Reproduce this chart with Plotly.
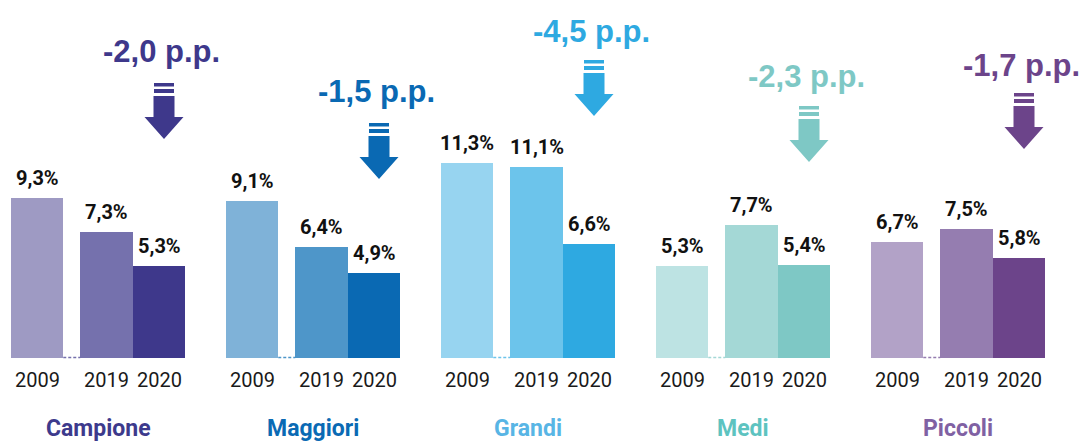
import plotly.graph_objects as go

# ---- data ----
groups = ["Campione", "Maggiori", "Grandi", "Medi", "Piccoli"]
years = ["2009", "2019", "2020"]
v2009 = [9.3, 9.1, 11.3, 5.3, 6.7]
v2019 = [7.3, 6.4, 11.1, 7.7, 7.5]
v2020 = [5.3, 4.9, 6.6, 5.4, 5.8]

# ---- styles ----
bar_colors = [
    ["#9e9ac3", "#7571ad", "#3e388b"],
    ["#7fb2d8", "#4e96c9", "#0a69b3"],
    ["#97d4f0", "#6cc4eb", "#2ea9e1"],
    ["#bde3e3", "#a4d8d6", "#7ec8c5"],
    ["#b2a2c7", "#957db0", "#6c448a"],
]
title_colors = ["#3d3a8c", "#0a6ab4", "#58b5e5", "#5dc3c0", "#8061a3"]
arrow_colors = ["#3e388b", "#0a69b3", "#2ea9e1", "#7ec8c5", "#6c448a"]

NARROW = "Roboto, DejaVu Sans Condensed, sans-serif"
WIDE = "Liberation Sans, Arial, Helvetica, sans-serif"

W, H = 1080, 441
base_py = 357.5          # pixel row of the baseline
k = 17.2                 # pixels per percentage point
y_lo = -(H - base_py) / k
y_hi = base_py / k


def py2paper(py):
    """pixel row -> paper fraction"""
    return 1 - py / H


group_x0, group_step = 37, 215
offsets = [0, 69.5, 122]
bw = 52.5

arrow_top_px = [83, 123, 60, 106, 93]
arrow_text_px = [51, 92, 31, 76, 65]


def fmt(v):
    return f"{v:.1f}".replace(".", ",")


fig = go.Figure()
annotations = []
shapes = []

for g, name in enumerate(groups):
    vals = [v2009[g], v2019[g], v2020[g]]
    xs = [group_x0 + group_step * g + o for o in offsets]
    fig.add_trace(go.Bar(
        x=xs, y=vals, width=bw,
        marker=dict(color=bar_colors[g], line=dict(width=0)),
        hoverinfo="skip", showlegend=False,
    ))
    for x, v, yr in zip(xs, vals, years):
        annotations.append(dict(
            x=x, y=v, xref="x", yref="y", text=f"<b>{fmt(v)}%</b>",
            showarrow=False, yanchor="bottom", yshift=6,
            font=dict(family=NARROW, size=20, color="#111111"),
        ))
        annotations.append(dict(
            x=x, y=0, xref="x", yref="y", text=yr,
            showarrow=False, yanchor="top", yshift=-8,
            font=dict(family=NARROW, size=20, color="#1a1a1a"),
        ))
    # dashed baseline between 2009 and 2019
    shapes.append(dict(
        type="line", xref="x", yref="y",
        x0=xs[0] + bw / 2, x1=xs[1] - bw / 2, y0=0, y1=0,
        line=dict(color=bar_colors[g][1], width=1.5, dash="3px,2px"),
    ))
    # group title
    gc = ((xs[0] - bw / 2) + (xs[2] + bw / 2)) / 2
    annotations.append(dict(
        x=gc, y=py2paper(428), xref="x", yref="paper",
        text=f"<b>{name}</b>", showarrow=False, yanchor="middle",
        font=dict(family=NARROW, size=23, color=title_colors[g]),
    ))
    # change label + arrow
    delta = vals[2] - vals[1]
    ax = xs[2] + 5
    annotations.append(dict(
        x=xs[2] + 2, y=py2paper(arrow_text_px[g]), xref="x", yref="paper",
        text=f"<b>{fmt(delta)} p.p.</b>", showarrow=False, yanchor="middle",
        font=dict(family=WIDE, size=31, color=arrow_colors[g]),
    ))
    t = arrow_top_px[g]
    col = arrow_colors[g]
    for s0, s1 in [(0, 3.5), (6, 10)]:
        shapes.append(dict(
            type="rect", xref="x", yref="paper",
            x0=ax - 10, x1=ax + 10, y0=py2paper(t + s1), y1=py2paper(t + s0),
            fillcolor=col, line=dict(width=0),
        ))
    pts = [(ax - 10.5, t + 13), (ax + 10.5, t + 13), (ax + 10.5, t + 34),
           (ax + 19.5, t + 34), (ax, t + 56), (ax - 19.5, t + 34), (ax - 10.5, t + 34)]
    path = "M " + " L ".join(f"{px},{py2paper(py)}" for px, py in pts) + " Z"
    shapes.append(dict(
        type="path", xref="x", yref="paper", path=path,
        fillcolor=col, line=dict(width=0),
    ))

fig.update_layout(
    width=W, height=H,
    margin=dict(l=0, r=0, t=0, b=0),
    paper_bgcolor="white", plot_bgcolor="white",
    barmode="overlay", bargap=0,
    xaxis=dict(range=[0, W], visible=False, fixedrange=True),
    yaxis=dict(range=[y_lo, y_hi], visible=False, fixedrange=True),
    annotations=annotations, shapes=shapes,
    showlegend=False,
)

fig.write_html(
    "out.html",
    config={"displayModeBar": False, "staticPlot": True},
    post_script="document.body.style.margin='0';document.body.style.overflow='hidden';",
)
